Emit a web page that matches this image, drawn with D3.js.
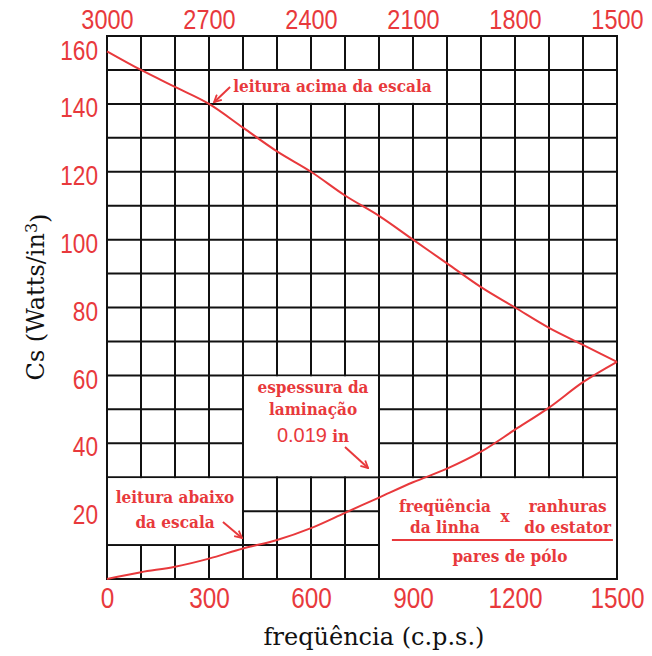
<!DOCTYPE html>
<html>
<head>
<meta charset="utf-8">
<script src="https://cdn.jsdelivr.net/npm/d3@7"></script>
<style>
body { margin: 0; background: #fff; }
svg { display: block; }
.tick text { font-family: "Liberation Sans", sans-serif; fill: #e8393c; }
.note { font-family: "DejaVu Serif Condensed", "DejaVu Serif", serif; font-stretch: condensed; font-weight: bold; font-size: 17px; fill: #e8393c; }
.num { font-family: "Liberation Sans", sans-serif; font-weight: normal; font-size: 20px; }
.title { font-family: "DejaVu Serif", serif; font-size: 24px; fill: #111; }
</style>
</head>
<body>
<div id="chart"></div>
<script>
// curve values (frequency in c.p.s. -> Cs in Watts/in^3)
var freq = [0, 100, 200, 300, 400, 500, 600, 700, 800, 900, 1000, 1100, 1200, 1300, 1400, 1500];
var csAbove = [155.5, 150, 145, 140, 133, 126, 120, 113, 107, 100, 93, 86, 80, 74, 69, 64];
var csBelow = [0, 2, 3.6, 6, 9, 11.5, 15, 19.5, 24, 28.5, 32.5, 37.5, 44, 50.5, 58, 64];

var bottomTicks = [0, 300, 600, 900, 1200, 1500];
var topTicks = [3000, 2700, 2400, 2100, 1800, 1500];
var leftTicks = [20, 40, 60, 80, 100, 120, 140, 160];

// grid cells left blank for the notes (data units)
var blankCells = [
    {x0: 300, x1: 1000, y0: 140, y1: 150},
    {x0: 400, x1: 800, y0: 30, y1: 60},
    {x0: 0, x1: 400, y0: 10, y1: 30},
    {x0: 800, x1: 1500, y0: 0, y1: 30}
];

var width = 652, height = 656;
var margin = {top: 36, right: 35, bottom: 77, left: 107};
var red = "#e8393c";
var squeeze = 0.84; // tick digits are narrow in the original

var x = d3.scaleLinear().domain([0, 1500]).range([margin.left, width - margin.right]);
var y = d3.scaleLinear().domain([0, 160]).range([height - margin.bottom, margin.top]);
// top scale: line frequency x slots / pole pairs reads 3000 .. 1500
var xTop = d3.scaleLinear().domain([3000, 1500]).range(x.range());

var svg = d3.select("#chart").append("svg")
    .attr("width", width)
    .attr("height", height);

var defs = svg.append("defs");
defs.append("marker")
    .attr("id", "head")
    .attr("viewBox", "0 0 10 10")
    .attr("refX", 9).attr("refY", 5)
    .attr("markerWidth", 9).attr("markerHeight", 9)
    .attr("markerUnits", "userSpaceOnUse")
    .attr("orient", "auto")
    .append("path")
    .attr("d", "M1,1 L9,5 L1,9")
    .attr("fill", "none")
    .attr("stroke", red)
    .attr("stroke-width", 2);

// grid
var grid = svg.append("g").attr("stroke", "#111").attr("stroke-width", 2);
grid.selectAll("line.v")
    .data(d3.range(0, 1501, 100))
    .enter().append("line")
    .attr("class", "v")
    .attr("x1", function (d) { return x(d); })
    .attr("x2", function (d) { return x(d); })
    .attr("y1", y(160) - 1)
    .attr("y2", y(0) + 1);
grid.selectAll("line.h")
    .data(d3.range(0, 161, 10))
    .enter().append("line")
    .attr("class", "h")
    .attr("x1", x(0) - 1)
    .attr("x2", x(1500) + 1)
    .attr("y1", function (d) { return y(d); })
    .attr("y2", function (d) { return y(d); });

// blank out the note areas, keeping their borders
svg.selectAll("rect.blank")
    .data(blankCells)
    .enter().append("rect")
    .attr("class", "blank")
    .attr("fill", "#fff")
    .attr("x", function (d) { return x(d.x0) + 1; })
    .attr("y", function (d) { return y(d.y1) + 1; })
    .attr("width", function (d) { return x(d.x1) - x(d.x0) - 2; })
    .attr("height", function (d) { return y(d.y0) - y(d.y1) - 2; });

// curves
var line = function (vals) {
    return d3.line()
        .x(function (d, i) { return x(freq[i]); })
        .y(function (d) { return y(d); })
        .curve(d3.curveMonotoneX)(vals);
};
svg.append("path").attr("d", line(csAbove))
    .attr("fill", "none").attr("stroke", red).attr("stroke-width", 2);
svg.append("path").attr("d", line(csBelow))
    .attr("fill", "none").attr("stroke", red).attr("stroke-width", 2);

// axes
svg.append("g")
    .attr("transform", "translate(0," + y(0) + ")")
    .call(d3.axisBottom(x).tickValues(bottomTicks).tickSize(0).tickPadding(8).tickFormat(d3.format("d")))
    .call(function (g) { g.select(".domain").remove(); })
    .selectAll("text")
    .style("font-size", "29px")
    .attr("transform", "scale(" + squeeze + ",1)");

svg.append("g")
    .attr("transform", "translate(0," + y(160) + ")")
    .call(d3.axisTop(xTop).tickValues(topTicks).tickSize(0).tickPadding(7).tickFormat(d3.format("d")))
    .call(function (g) { g.select(".domain").remove(); })
    .selectAll("text")
    .style("font-size", "28px")
    .attr("transform", "scale(" + squeeze + ",1)");

svg.append("g")
    .attr("transform", "translate(" + x(0) + ",0)")
    .call(d3.axisLeft(y).tickValues(leftTicks).tickSize(0).tickPadding(9))
    .call(function (g) { g.select(".domain").remove(); })
    .selectAll("text")
    .style("font-size", "27px")
    .attr("x", -9 / squeeze)
    .attr("transform", "scale(" + squeeze + ",1)")
    .attr("dy", function (d) { return d === 160 ? "0.88em" : "0.47em"; });

// axis titles
svg.append("text")
    .attr("class", "title")
    .attr("text-anchor", "middle")
    .attr("transform", "translate(44,297) rotate(-90)")
    .text("Cs (Watts/in")
    .append("tspan").attr("dy", "-0.45em").attr("font-size", "16px").text("3")
    .select(function () { return this.parentNode; })
    .append("tspan").attr("dy", "0.45em").text(")");

svg.append("text")
    .attr("class", "title")
    .attr("text-anchor", "middle")
    .attr("x", 374).attr("y", 645)
    .text("freqüência (c.p.s.)");

// notes
function note(tx, ty, lines, anchor) {
    var t = svg.append("text")
        .attr("class", "note")
        .attr("text-anchor", anchor || "middle");
    lines.forEach(function (l) {
        t.append("tspan").attr("x", x(tx)).attr("y", y(l.y)).text(l.s);
    });
    return t;
}
function arrow(a, b) {
    svg.append("line")
        .attr("x1", x(a[0])).attr("y1", y(a[1]))
        .attr("x2", x(b[0])).attr("y2", y(b[1]))
        .attr("stroke", red).attr("stroke-width", 2)
        .attr("marker-end", "url(#head)");
}

note(371, 0, [{s: "leitura acima da escala", y: 143.5}], "start");
arrow([362, 145], [315, 140.5]);

var esp = note(606, 0, [{s: "espessura da", y: 54.8}, {s: "laminação", y: 48.3}]);
var num = esp.append("tspan").attr("x", x(606)).attr("y", y(40.4));
num.append("tspan").attr("class", "num").text("0.019");
num.append("tspan").text(" in");
arrow([700, 38.9], [768, 32.7]);

note(200, 0, [{s: "leitura abaixo", y: 22.4}, {s: "da escala", y: 15}]);
arrow([341, 16.8], [397, 12.1]);

note(994, 0, [{s: "freqüência", y: 19.7}, {s: "da linha", y: 13.6}]);
note(1171, 0, [{s: "x", y: 16.8}]);
note(1355, 0, [{s: "ranhuras", y: 19.7}, {s: "do estator", y: 13.6}]);
svg.append("line")
    .attr("x1", x(838)).attr("x2", x(1488))
    .attr("y1", y(11.5)).attr("y2", y(11.5))
    .attr("stroke", red).attr("stroke-width", 2);
note(1185, 0, [{s: "pares de pólo", y: 5}]);
</script>
</body>
</html>
